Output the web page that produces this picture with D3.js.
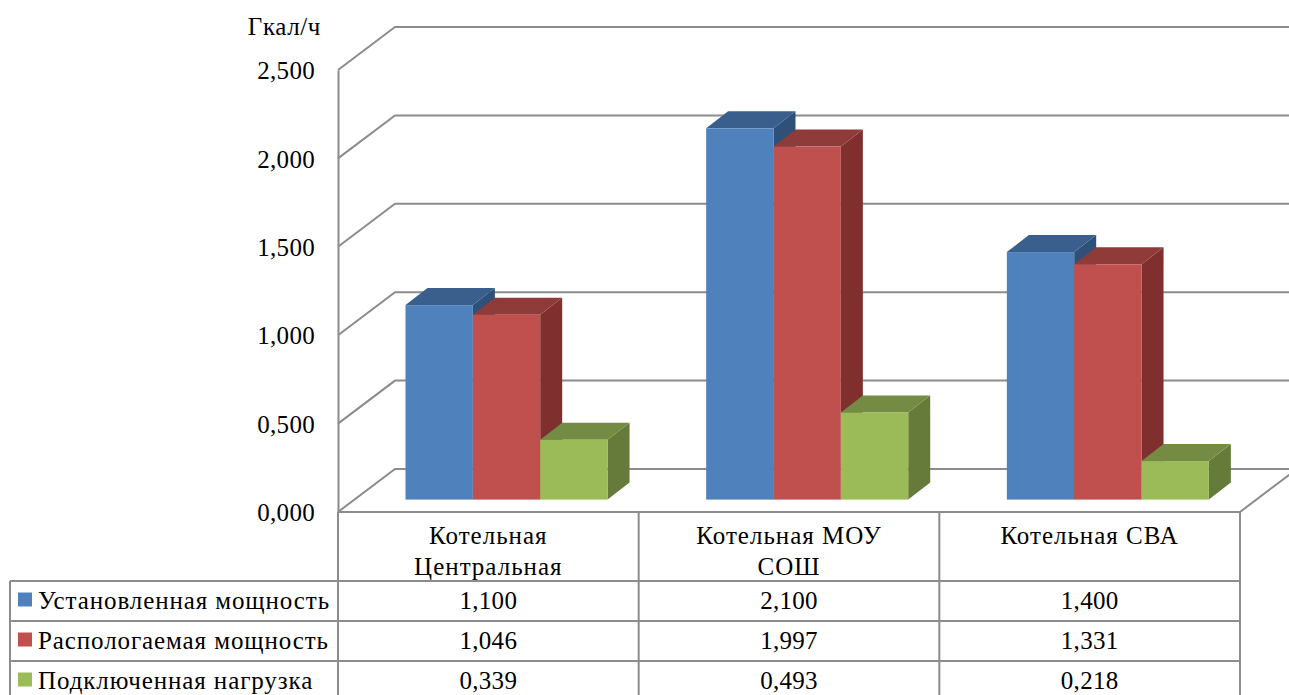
<!DOCTYPE html>
<html>
<head>
<meta charset="utf-8">
<script src="https://cdn.jsdelivr.net/npm/d3@7"></script>
<style>
html, body { margin: 0; padding: 0; background: #fff; overflow: hidden; }
text { font-family: "Liberation Serif", serif; fill: #000; }
</style>
</head>
<body>
<div id="chart"></div>
<script>
const categories = [["Котельная", "Центральная"], ["Котельная МОУ", "СОШ"], ["Котельная СВА"]];
const seriesNames = ["Установленная мощность", "Распологаемая мощность", "Подключенная нагрузка"];
const installed = [1.100, 2.100, 1.400];
const available = [1.046, 1.997, 1.331];
const connected = [0.339, 0.493, 0.218];
const seriesValues = [installed, available, connected];
const tickValues = [0, 0.5, 1, 1.5, 2, 2.5];
const unitLabel = "Гкал/ч";

const colors = [
    { front: "#4f81bd", top: "#3a5f8c", side: "#2f5078" },
    { front: "#c0504d", top: "#8f3b39", side: "#7f302e" },
    { front: "#9bbb59", top: "#738b42", side: "#667b39" }
];
const lineColor = "#8c8c8c";
const depthX = 57, depthY = -43;
const barDepthX = 22, barDepthY = -17;
const rowY = [512, 581, 621, 661, 701];
const fontSize = 25;

const svg = d3.select("#chart").append("svg")
    .attr("width", 1289)
    .attr("height", 695);

const y = d3.scaleLinear().domain([0, 2.5]).range([512, 70]);
const x = d3.scaleBand().domain(d3.range(categories.length)).range([338, 1240]);
// bars sit off-centre in the band
const inner = d3.scaleBand().domain(d3.range(seriesNames.length))
    .range([x.bandwidth() * 0.2245, x.bandwidth() * 0.8965]);
const fmt = d3.formatLocale({ decimal: ",", thousands: " ", grouping: [3], currency: ["", ""] }).format(".3f");

// walls: back gridlines and diagonals
const grid = svg.append("g").attr("fill", "none").attr("stroke", lineColor).attr("stroke-width", 2);
tickValues.forEach(t => {
    const p = d3.path();
    p.moveTo(338, y(t));
    p.lineTo(338 + depthX, y(t) + depthY);
    p.lineTo(1240 + depthX, y(t) + depthY);
    grid.append("path").attr("d", p.toString());
});
// floor, right side
const floor = d3.path();
floor.moveTo(1240, y(0));
floor.lineTo(1240 + depthX, y(0) + depthY);
grid.append("path").attr("d", floor.toString());

// axis
const axis = svg.append("g")
    .attr("transform", "translate(338,0)")
    .call(d3.axisLeft(y).tickValues(tickValues).tickSize(0).tickPadding(23).tickFormat(fmt));
axis.select(".domain").attr("stroke", lineColor).attr("stroke-width", 2);
axis.selectAll("text")
    .style("font-size", fontSize + "px")
    .style("letter-spacing", "0.3px")
    .attr("transform", "translate(0,0.7)")
    .attr("font-family", null);

svg.append("text").attr("x", 321).attr("y", 35).attr("text-anchor", "end")
    .style("font-size", fontSize + "px")
    .style("letter-spacing", "0.6px")
    .text(unitLabel);

// bars, drawn back to front in each category
const barBase = 499.6;
categories.forEach((c, ci) => {
    seriesValues.forEach((vals, si) => {
        const v = vals[ci];
        const x0 = x(ci) + inner(si);
        const w = inner.bandwidth();
        const top = y(v) - (y(0) - barBase);
        const g = svg.append("g").attr("class", "bar");
        g.append("path").attr("fill", colors[si].side).attr("d", d3.line()([
            [x0 + w, top], [x0 + w + barDepthX, top + barDepthY],
            [x0 + w + barDepthX, barBase + barDepthY], [x0 + w, barBase]
        ]) + "Z");
        g.append("path").attr("fill", colors[si].top).attr("d", d3.line()([
            [x0, top], [x0 + barDepthX, top + barDepthY],
            [x0 + w + barDepthX, top + barDepthY], [x0 + w, top]
        ]) + "Z");
        g.append("rect").attr("x", x0).attr("y", top).attr("width", w).attr("height", barBase - top)
            .attr("fill", colors[si].front);
    });
});

// data table
const table = svg.append("g").attr("stroke", lineColor).attr("stroke-width", 2).attr("fill", "none");
d3.range(categories.length + 1).forEach(i => {
    const px = i < categories.length ? x(i) : 1240;
    table.append("line").attr("x1", px).attr("x2", px).attr("y1", rowY[0]).attr("y2", rowY[4]);
});
table.append("line").attr("x1", 338).attr("x2", 1240).attr("y1", rowY[0]).attr("y2", rowY[0]);
rowY.slice(1, 4).forEach(ry => {
    table.append("line").attr("x1", 10).attr("x2", 1240).attr("y1", ry).attr("y2", ry);
});
table.append("line").attr("x1", 10).attr("x2", 10).attr("y1", rowY[1]).attr("y2", rowY[4]);

categories.forEach((lines, ci) => {
    lines.forEach((line, li) => {
        svg.append("text")
            .attr("x", x(ci) + x.bandwidth() / 2)
            .attr("y", 544 + li * 31)
            .attr("text-anchor", "middle")
            .style("font-size", fontSize + "px")
            .style("letter-spacing", "1px")
            .text(line);
    });
});

seriesNames.forEach((name, si) => {
    const rowMid = (rowY[si + 1] + rowY[si + 2]) / 2;
    svg.append("rect").attr("x", 18).attr("y", rowMid - 8.5).attr("width", 14).attr("height", 14)
        .attr("fill", colors[si].front);
    svg.append("text").attr("x", 38).attr("y", rowMid + 8)
        .style("font-size", fontSize + "px")
        .style("letter-spacing", "0.9px")
        .text(name);
    seriesValues[si].forEach((v, ci) => {
        svg.append("text")
            .attr("x", x(ci) + x.bandwidth() / 2)
            .attr("y", rowMid + 8)
            .attr("text-anchor", "middle")
            .style("font-size", fontSize + "px")
            .style("letter-spacing", "0.3px")
            .text(fmt(v));
    });
});
</script>
</body>
</html>
